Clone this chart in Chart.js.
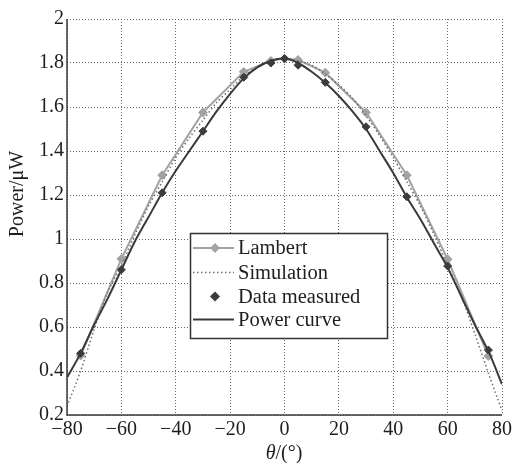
<!DOCTYPE html>
<html>
<head>
<meta charset="utf-8">
<script src="https://cdn.jsdelivr.net/npm/chart.js@4.4.1/dist/chart.umd.min.js"></script>
<style>
  html, body { margin: 0; padding: 0; background: #fff; }
  #wrap { width: 515px; height: 463px; }
</style>
</head>
<body>
<div id="wrap"><canvas id="chart" width="515" height="463"></canvas></div>
<script>
// angles where markers were taken
var markerAngles = [-75, -60, -45, -30, -15, -5, 0, 5, 15, 30, 45, 60, 75];
var lambertValues = [0.47, 0.91, 1.29, 1.575, 1.76, 1.81, 1.82, 1.814, 1.756, 1.575, 1.29, 0.908, 0.468];
var measuredValues = [0.48, 0.86, 1.21, 1.49, 1.735, 1.80, 1.82, 1.79, 1.712, 1.51, 1.192, 0.877, 0.495];

// dense angles for the two smooth curves
var curveAngles = [-80, -75, -70, -65, -60, -55, -50, -45, -40, -35, -30, -25, -20, -15, -10, -5, 0,
                   5, 10, 15, 20, 25, 30, 35, 40, 45, 50, 55, 60, 65, 70, 75, 80];
var simulationValues = [0.24, 0.40, 0.59, 0.76, 0.88, 1.02, 1.15, 1.26, 1.37, 1.46, 1.54, 1.62, 1.68, 1.74, 1.78, 1.81, 1.82,
                        1.81, 1.79, 1.75, 1.70, 1.64, 1.56, 1.47, 1.37, 1.26, 1.15, 1.02, 0.88, 0.74, 0.57, 0.39, 0.22];
var powerValues = [0.37, 0.48, 0.61, 0.73, 0.86, 0.99, 1.10, 1.21, 1.31, 1.40, 1.49, 1.58, 1.66, 1.73, 1.78, 1.81, 1.82,
                   1.80, 1.76, 1.71, 1.65, 1.58, 1.50, 1.40, 1.30, 1.19, 1.09, 0.98, 0.87, 0.74, 0.61, 0.49, 0.34];

var xTicks = [-80, -60, -40, -20, 0, 20, 40, 60, 80];
var yTicks = [0.2, 0.4, 0.6, 0.8, 1, 1.2, 1.4, 1.6, 1.8, 2];

var serif = '"Liberation Serif", "DejaVu Serif", serif';

function pairs(xs, ys) {
    var out = [];
    for (var i = 0; i < xs.length; i++) {
        out.push({ x: xs[i], y: ys[i] });
    }
    return out;
}

// solid left/bottom axes plus the legend box and axis titles
var boxLegend = {
    id: 'boxLegend',
    afterDatasetsDraw: function (chart) {
        var ctx = chart.ctx;
        var area = chart.chartArea;
        ctx.save();
        ctx.strokeStyle = '#3a3a3a';
        ctx.lineWidth = 1.5;
        ctx.beginPath();
        ctx.moveTo(area.left, area.top);
        ctx.lineTo(area.left, area.bottom);
        ctx.lineTo(area.right, area.bottom);
        ctx.stroke();
        ctx.restore();
    },
    afterDraw: function (chart) {
        var ctx = chart.ctx;
        var x0 = 190, y0 = 233, w = 197, h = 105;
        var rows = [248, 272.5, 296.5, 319.5];
        ctx.save();
        ctx.fillStyle = '#fff';
        ctx.fillRect(x0, y0, w, h);
        ctx.strokeStyle = '#333';
        ctx.lineWidth = 1.5;
        ctx.strokeRect(x0 + 0.5, y0 + 0.5, w, h);
        chart.data.datasets.forEach(function (ds, i) {
            var y = rows[i];
            if (ds.legendLine) {
                ctx.beginPath();
                ctx.setLineDash(ds.borderDash || []);
                ctx.strokeStyle = ds.borderColor;
                ctx.lineWidth = ds.borderWidth;
                ctx.moveTo(193, y);
                ctx.lineTo(234, y);
                ctx.stroke();
                ctx.setLineDash([]);
            }
            if (ds.pointRadius > 0) {
                ctx.fillStyle = ds.pointBackgroundColor;
                ctx.strokeStyle = ds.pointBorderColor;
                Chart.helpers.drawPoint(ctx, {
                    pointStyle: ds.pointStyle,
                    radius: ds.pointRadius,
                    borderWidth: 1
                }, 215, y);
            }
            ctx.fillStyle = '#1e1e1e';
            ctx.font = '20.5px ' + serif;
            ctx.textBaseline = 'middle';
            ctx.textAlign = 'left';
            ctx.fillText(ds.label, 238, y + 1);
        });

        // axis titles
        ctx.fillStyle = '#1e1e1e';
        ctx.textBaseline = 'alphabetic';
        var t1 = 'θ', t2 = '/(°)';
        ctx.font = 'italic 20px ' + serif;
        var w1 = ctx.measureText(t1).width;
        ctx.font = '20px ' + serif;
        var w2 = ctx.measureText(t2).width;
        var sx = 284 - (w1 + w2) / 2;
        ctx.font = 'italic 20px ' + serif;
        ctx.fillText(t1, sx, 459);
        ctx.font = '20px ' + serif;
        ctx.fillText(t2, sx + w1, 459);

        ctx.translate(18, 194);
        ctx.rotate(-Math.PI / 2);
        ctx.textAlign = 'center';
        ctx.textBaseline = 'middle';
        ctx.fillText('Power/μW', 0, 0);
        ctx.restore();
    }
};

var ctx = document.getElementById('chart');
var chart = new Chart(ctx, {
    type: 'scatter',
    data: {
        datasets: [
            {
                label: 'Lambert',
                data: pairs(markerAngles, lambertValues),
                showLine: true,
                legendLine: true,
                borderColor: '#a3a3a3',
                borderWidth: 2,
                pointStyle: 'rectRot',
                pointRadius: 3.5,
                pointBackgroundColor: '#a3a3a3',
                pointBorderColor: '#a3a3a3',
                order: 3
            },
            {
                label: 'Simulation',
                data: pairs(curveAngles, simulationValues),
                showLine: true,
                legendLine: true,
                borderColor: '#6e6e6e',
                borderWidth: 1.5,
                borderDash: [1.5, 2.5],
                pointRadius: 0,
                tension: 0.3,
                order: 2
            },
            {
                label: 'Data measured',
                data: pairs(markerAngles, measuredValues),
                showLine: false,
                legendLine: false,
                pointStyle: 'rectRot',
                pointRadius: 4,
                pointBackgroundColor: '#3c3c3c',
                pointBorderColor: '#3c3c3c',
                order: 0
            },
            {
                label: 'Power curve',
                data: pairs(curveAngles, powerValues),
                showLine: true,
                legendLine: true,
                borderColor: '#3a3a3a',
                borderWidth: 2,
                pointRadius: 0,
                tension: 0.3,
                order: 1
            }
        ]
    },
    plugins: [boxLegend],
    options: {
        responsive: false,
        animation: false,
        layout: { padding: { top: 19, right: 13, left: 0, bottom: 0 } },
        plugins: {
            legend: { display: false },
            tooltip: { enabled: false }
        },
        scales: {
            x: {
                type: 'linear',
                min: -80,
                max: 80,
                afterBuildTicks: function (s) {
                    s.ticks = xTicks.map(function (v) { return { value: v }; });
                },
                afterFit: function (s) { s.height = 48; },
                ticks: {
                    color: '#1e1e1e',
                    font: { family: serif, size: 20 },
                    padding: 3,
                    maxRotation: 0,
                    callback: function (v) { return v < 0 ? '\u2212' + Math.abs(v) : String(v); }
                },
                grid: {
                    color: '#666',
                    lineWidth: 1,
                    drawTicks: false
                },
                border: { display: false, dash: [1, 2] }
            },
            y: {
                min: 0.2,
                max: 2,
                afterBuildTicks: function (s) {
                    s.ticks = yTicks.map(function (v) { return { value: v }; });
                },
                afterFit: function (s) { s.width = 67; },
                ticks: {
                    color: '#1e1e1e',
                    font: { family: serif, size: 20 },
                    padding: 3,
                    callback: function (v) { return String(Number(v.toFixed(1))); }
                },
                grid: {
                    color: '#666',
                    lineWidth: 1,
                    drawTicks: false
                },
                border: { display: false, dash: [1, 2] }
            }
        }
    }
});
</script>
</body>
</html>
